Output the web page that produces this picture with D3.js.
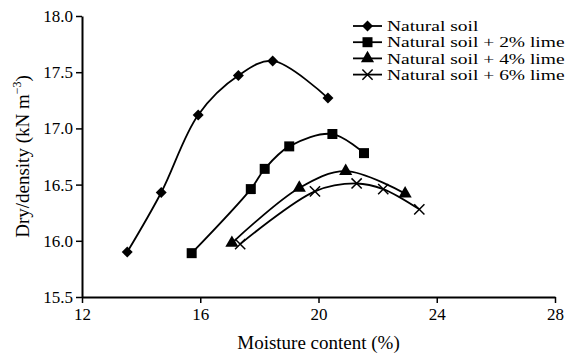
<!DOCTYPE html>
<html>
<head>
<meta charset="utf-8">
<script src="https://cdn.jsdelivr.net/npm/d3@7"></script>
<style>
  body { margin: 0; background: #fff; }
  text { font-family: "Liberation Serif", "Times New Roman", serif; fill: #000; }
</style>
</head>
<body>
<div id="chart"></div>
<script>
// data
const seriesNames = ["Natural soil", "Natural soil + 2% lime", "Natural soil + 4% lime", "Natural soil + 6% lime"];
const markerTypes = ["diamond", "square", "triangle", "cross"];

const moistNatural = [13.53, 14.68, 15.93, 17.29, 18.45, 20.32];
const densNatural  = [15.90, 16.43, 17.12, 17.47, 17.60, 17.27];

const moistLime2 = [15.71, 17.71, 18.18, 19.01, 20.47, 21.54];
const densLime2  = [15.89, 16.46, 16.64, 16.84, 16.95, 16.78];

const moistLime4 = [17.07, 19.35, 20.92, 22.93];
const densLime4  = [15.98, 16.47, 16.62, 16.42];

const moistLime6 = [17.35, 19.88, 21.29, 22.19, 23.41];
const densLime6  = [15.97, 16.44, 16.51, 16.46, 16.28];

const xTicks = [12, 16, 20, 24, 28];
const yTicks = [15.5, 16.0, 16.5, 17.0, 17.5, 18.0];

const series = [
  { x: moistNatural, y: densNatural },
  { x: moistLime2, y: densLime2 },
  { x: moistLime4, y: densLime4 },
  { x: moistLime6, y: densLime6 }
];

const width = 573, height = 356;
const margin = { top: 16, right: 18, bottom: 59, left: 82 };

const svg = d3.select("#chart").append("svg").attr("width", width).attr("height", height);

const xScale = d3.scaleLinear().domain([12, 28]).range([margin.left, width - margin.right]);
const yScale = d3.scaleLinear().domain([15.5, 18.0]).range([height - margin.bottom, margin.top]);

// axes
const axisx = d3.axisBottom(xScale).tickValues(xTicks).tickSize(6).tickSizeOuter(0).tickPadding(5);
const axisy = d3.axisLeft(yScale).tickValues(yTicks).tickFormat(d3.format(".1f")).tickSize(6).tickSizeOuter(0).tickPadding(3);

const gx = svg.append("g")
  .attr("transform", "translate(0," + (height - margin.bottom) + ")")
  .call(axisx);
const gy = svg.append("g")
  .attr("transform", "translate(" + margin.left + ",0)")
  .call(axisy);

[gx, gy].forEach(g => {
  g.select(".domain").attr("stroke", "#000").attr("stroke-width", 2);
  g.selectAll(".tick line").attr("stroke", "#000").attr("stroke-width", 1.5);
  g.selectAll(".tick text").attr("font-size", "17px").attr("font-family", "Liberation Serif");
});

svg.append("text")
  .attr("x", (margin.left + width - margin.right) / 2)
  .attr("y", 349)
  .attr("text-anchor", "middle")
  .attr("font-size", "19px")
  .text("Moisture content (%)");

const ylab = svg.append("text")
  .attr("transform", "translate(29," + ((margin.top + height - margin.bottom) / 2) + ") rotate(-90)")
  .attr("text-anchor", "middle")
  .attr("font-size", "19px");
ylab.append("tspan").text("Dry/density (kN m");
ylab.append("tspan").attr("dy", -8).attr("font-size", "12px").text("\u22123");
ylab.append("tspan").attr("dy", 8).text(")");

// markers
const symbolFor = {
  diamond: d3.symbol().type(d3.symbolSquare).size(60),
  square: d3.symbol().type(d3.symbolSquare).size(100),
  triangle: d3.symbol().type(d3.symbolTriangle).size(75),
  cross: d3.symbol().type(d3.symbolX).size(70)
};

const drawMarker = (g, type, cx, cy) => {
  const p = g.append("path").attr("d", symbolFor[type]());
  if (type === "diamond") {
    p.attr("transform", "translate(" + cx + "," + cy + ") rotate(45)").attr("fill", "#000");
  } else if (type === "cross") {
    p.attr("transform", "translate(" + cx + "," + cy + ")").attr("fill", "none").attr("stroke", "#000").attr("stroke-width", 1.5);
  } else {
    p.attr("transform", "translate(" + cx + "," + cy + ")").attr("fill", "#000");
  }
};

const line = d3.line()
  .x(d => xScale(d[0]))
  .y(d => yScale(d[1]))
  .curve(d3.curveCatmullRom.alpha(0.5));

series.forEach((s, i) => {
  const pts = s.x.map((v, j) => [v, s.y[j]]);
  svg.append("path")
    .datum(pts)
    .attr("fill", "none")
    .attr("stroke", "#000")
    .attr("stroke-width", 1.8)
    .attr("d", line);
  const g = svg.append("g");
  pts.forEach(p => drawMarker(g, markerTypes[i], xScale(p[0]), yScale(p[1])));
});

// legend
const legend = svg.append("g").attr("transform", "translate(353,26)");
seriesNames.forEach((name, i) => {
  const row = legend.append("g").attr("transform", "translate(0," + (i * 16.2) + ")");
  row.append("line").attr("x1", 0).attr("x2", 29).attr("y1", 0).attr("y2", 0)
    .attr("stroke", "#000").attr("stroke-width", 1.8);
  drawMarker(row, markerTypes[i], 14.5, 0);
  // glyphs in the figure are wider than they are tall
  row.append("text")
    .attr("transform", "translate(34,5.2) scale(1.3,1)")
    .attr("font-size", "15px")
    .text(name);
});
</script>
</body>
</html>
